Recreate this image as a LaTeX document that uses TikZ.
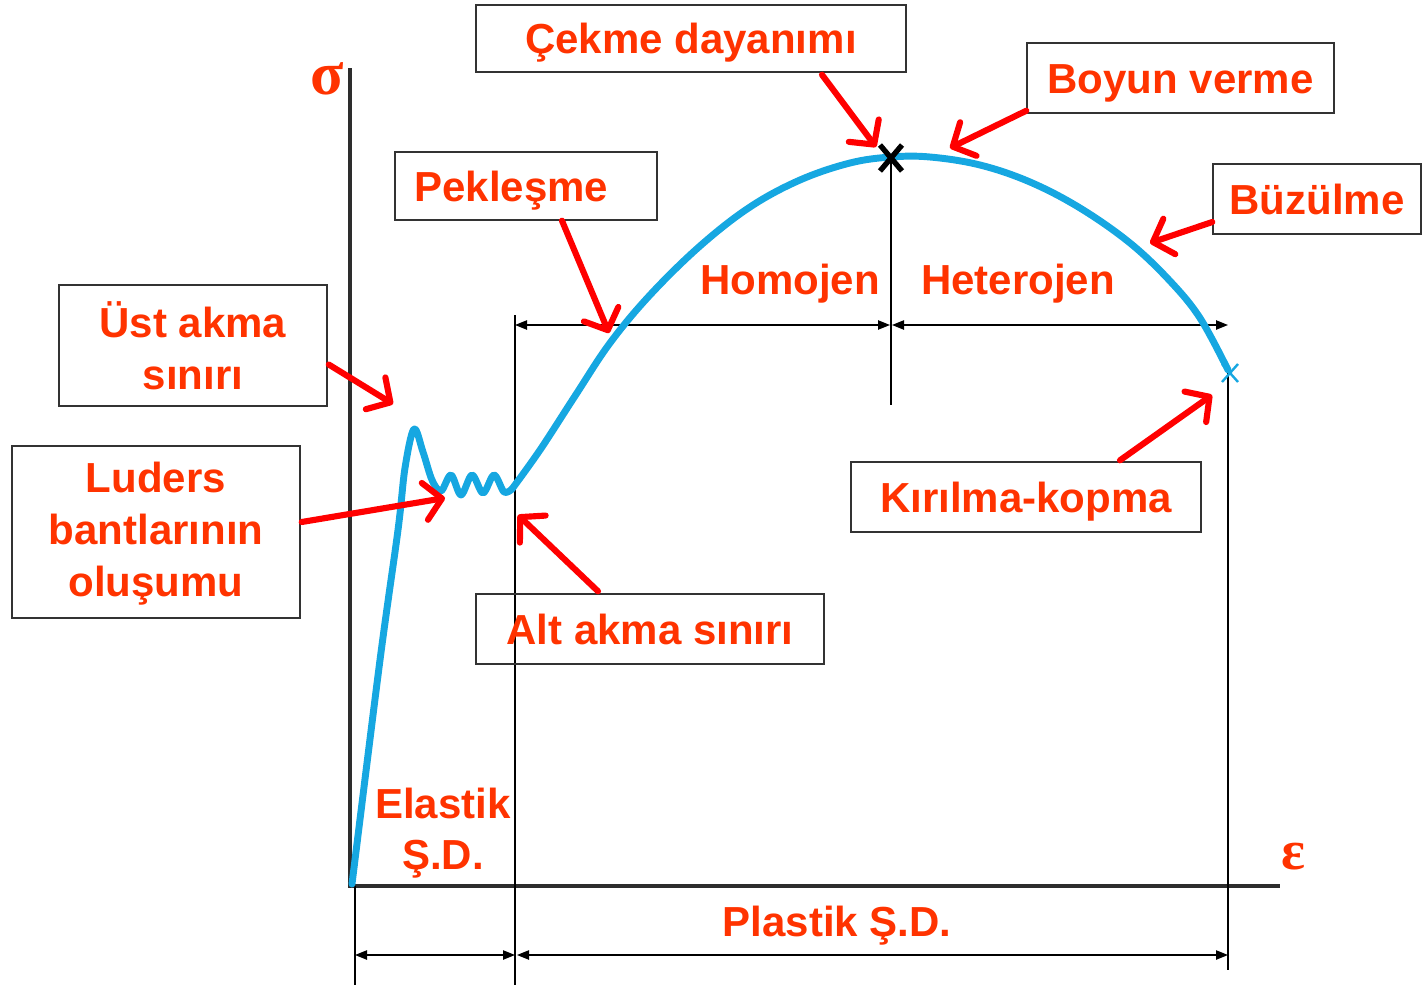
\documentclass[tikz,border=0pt]{standalone}
\usepackage{fontspec}
\setmainfont{Liberation Sans}
\newfontfamily\greekfont{Liberation Serif}
\usetikzlibrary{arrows.meta,calc}
\definecolor{labelred}{RGB}{255,51,0}
\definecolor{curveblue}{RGB}{22,167,225}
\definecolor{axisgray}{RGB}{45,45,45}
\begin{document}
\begin{tikzpicture}[x=0.75pt,y=-0.75pt,
  lfont/.style={font=\fontsize{31.5}{38.8}\selectfont\bfseries},
  lbox/.style={lfont, draw=black!80, line width=1.1pt, inner sep=0pt,
    text=labelred, align=center},
  oneline/.style={text height=22.6pt, text depth=0pt},
  ltext/.style={lfont, text=labelred, inner sep=0pt, align=center},
  callout/.style={draw=red, line width=4.6pt, line cap=round,
    -{Straight Barb[length=13pt,width=28pt,line cap=round,line join=round]}},
  dim/.style={draw=black, line width=1pt,
    {Triangle[length=9pt,width=7pt]}-{Triangle[length=9pt,width=7pt]}},
  guide/.style={draw=black, line width=1.1pt},
  axis/.style={draw=axisgray, line width=3.2pt},
  stress/.style={draw=curveblue, line width=5.2pt, line cap=round, line join=round},
]
\useasboundingbox (0,0) rectangle (1422,985);

% axes
\coordinate (O) at (350,886);
\coordinate (ytop) at (350,68);
\coordinate (xend) at (1280,886);
\draw[axis] (ytop) -- (O) -- (xend);
\node[text=labelred, font=\greekfont\fontsize{46}{46}\selectfont\bfseries, inner sep=0pt] (sigma) at (327,79) {σ};
\node[text=labelred, font=\greekfont\fontsize{42}{42}\selectfont\bfseries, inner sep=0pt] (eps) at (1293,857) {ε};

% guide lines
\coordinate (g0a) at (355,886);  \coordinate (g0b) at (355,985);
\coordinate (g1a) at (515,315);  \coordinate (g1b) at (515,985);
\coordinate (g2a) at (891,157);  \coordinate (g2b) at (891,405);
\coordinate (g3a) at (1228,372); \coordinate (g3b) at (1228,970);
\draw[guide] (g0a) -- (g0b);
\draw[guide] (g1a) -- (g1b);
\draw[guide] (g2a) -- (g2b);
\draw[guide] (g3a) -- (g3b);

% dimension arrows
\coordinate (d1) at (355,955);  \coordinate (d2) at (515,955);
\coordinate (d3) at (517,955);  \coordinate (d4) at (1228,955);
\coordinate (h1) at (515,325);  \coordinate (h2) at (890,325);
\coordinate (h3) at (892,325);  \coordinate (h4) at (1228,325);
\draw[dim] (d1) -- (d2);
\draw[dim] (d3) -- (d4);
\draw[dim] (h1) -- (h2);
\draw[dim] (h3) -- (h4);

% stress-strain curve
\draw[stress] plot[smooth, tension=0.55] coordinates {
  (352,884) (380,660) (398,530) (405,468) (414,429) (423,452) (432,480)
  (441,491) (451,475) (461,495) (472,475) (483,493) (494,475) (504,492) (512,489)};
\draw[stress] plot[smooth, tension=0.6] coordinates {
  (512,489) (540,450) (575,396) (610,343) (650,295) (700,246) (750,207)
  (800,180) (850,163) (891,157) (930,157) (980,165) (1030,182) (1080,208)
  (1130,243) (1170,281) (1200,318) (1228,370)};

% ultimate strength mark and fracture mark
\draw[black, line width=4pt] (880,145) -- (902,171) (880,171) -- (902,145);
\draw[curveblue, line width=1.8pt] (1222,364) -- (1238,382) (1222,382) -- (1238,364);

% boxed labels
\node[lbox, oneline, minimum width=430*0.75pt, minimum height=67*0.75pt] (cekme) at (691,38.5) {Çekme dayanımı};
\node[lbox, oneline, minimum width=307*0.75pt, minimum height=70*0.75pt] (boyun) at (1180.5,78) {Boyun verme};
\node[lbox, oneline, minimum width=262*0.75pt, minimum height=68*0.75pt] (pekl) at (526,186) {Pekleşme\hspace*{22pt}};
\node[lbox, oneline, minimum width=208*0.75pt, minimum height=70*0.75pt] (buzul) at (1317,199) {Büzülme};
\node[lbox, minimum width=268*0.75pt, minimum height=121*0.75pt] (ust) at (193,345.5) {\rule{0pt}{25pt}Üst akma\\sınırı};
\node[lbox, minimum width=288*0.75pt, minimum height=172*0.75pt] (luders) at (156,532) {\rule{0pt}{25pt}Luders\\bantlarının\\oluşumu};
\node[lbox, oneline, minimum width=348*0.75pt, minimum height=70*0.75pt] (alt) at (650,629) {Alt akma sınırı};
\node[lbox, oneline, minimum width=350*0.75pt, minimum height=70*0.75pt] (kirilma) at (1026,497) {Kırılma-kopma};

% free labels
\node[ltext, anchor=base] (homojen) at (790,294) {Homojen};
\node[ltext, anchor=base] (hetero) at (1018,294) {Heterojen};
\node[ltext] (elastik) at (443,833) {Elastik\\Ş.D.};
\node[ltext, anchor=base] (plastik) at (837,936) {Plastik Ş.D.};

% callout tips on the curve
\coordinate (tCekme) at (876,147);
\coordinate (tBoyun) at (950,148);
\coordinate (tPekl) at (609,333);
\coordinate (tBuzul) at (1150,243);
\coordinate (tUst) at (393,404);
\coordinate (tLuders) at (445,498);
\coordinate (tAlt) at (518,515);
\coordinate (tKir) at (1212,395);

% callout arrows
\draw[callout] ($(cekme.south)+(131,2)$) -- (tCekme);
\draw[callout] ($(boyun.south west)+(0,-3)$) -- (tBoyun);
\draw[callout] ($(pekl.south)+(36,0)$) -- (tPekl);
\draw[callout] ($(buzul.west)+(0,23)$) -- (tBuzul);
\draw[callout] ($(ust.east)+(1,19)$) -- (tUst);
\draw[callout] ($(luders.east)+(1,-10)$) -- (tLuders);
\draw[callout] ($(alt.north)+(-52,-2)$) -- (tAlt);
\draw[callout] ($(kirilma.north)+(94,-1)$) -- (tKir);
\end{tikzpicture}
\end{document}
